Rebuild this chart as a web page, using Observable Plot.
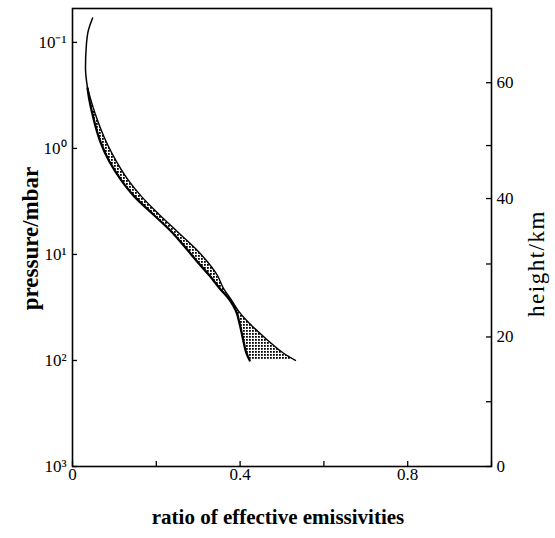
<!DOCTYPE html>
<html><head><meta charset="utf-8">
<script src="https://cdn.jsdelivr.net/npm/d3@7"></script>
<script src="https://cdn.jsdelivr.net/npm/@observablehq/plot@0.6"></script>
<style>body{margin:0;background:#fff}</style>
</head><body><div id="chart"></div>
<script>
// single curve above the band (pressure in mbar, ratio)
const topPressure = [0.0588, 0.0767, 0.107, 0.174, 0.271];
const topRatio    = [0.048, 0.038, 0.033, 0.031, 0.036];
// shaded band: lower and upper bound of the ratio
const bandPressure = [0.271, 0.362, 0.482, 0.875, 1.33, 2.01, 2.85, 4.13, 5.98, 8.84, 12.1, 15.8, 20.8, 27.5, 34, 47, 63, 85, 100];
const bandLow      = [0.036, 0.041, 0.048, 0.067, 0.088, 0.117, 0.148, 0.191, 0.234, 0.272, 0.301, 0.327, 0.351, 0.377, 0.390, 0.400, 0.407, 0.415, 0.423];
const bandHigh     = [0.036, 0.045, 0.055, 0.081, 0.105, 0.134, 0.165, 0.205, 0.248, 0.294, 0.325, 0.346, 0.360, 0.381, 0.396, 0.428, 0.463, 0.503, 0.532];
// axes
const xTicks = [0, 0.2, 0.4, 0.6, 0.8, 1.0];
const xLabels = [0, 0.4, 0.8];
const pTicks = [0.1, 1, 10, 100, 1000];
const pLabels = ["10⁻¹", "10⁰", "10¹", "10²", "10³"];
const heightKm = [0, 10, 20, 30, 40, 50, 60];
const heightPressure = [1000, 245, 60, 12.3, 2.97, 0.94, 0.24];

const W = 555, H = 538;
const mL = 72, mR = 64, mT = 8, mB = 72;
const pw = W - mL - mR, ph = H - mT - mB;

const topRows = topPressure.map((p, i) => ({p, x: topRatio[i]}));
const bandRows = bandPressure.map((p, i) => ({p, lo: bandLow[i], hi: bandHigh[i]}));
const htRows = heightKm.map((h, i) => ({h, p: heightPressure[i]}));
const pRows = pTicks.map((p, i) => ({p, label: pLabels[i]}));

const plot = Plot.plot({
  width: W, height: H,
  marginLeft: mL, marginRight: mR, marginTop: mT, marginBottom: mB,
  style: {fontFamily: "'Liberation Serif', serif", fontSize: "17px", color: "black", background: "white"},
  x: {domain: [0, 1.0], axis: null},
  y: {type: "log", domain: [0.0479, 1000], reverse: true, axis: null},
  marks: [
    Plot.areaX(bandRows, {y: "p", x1: "lo", x2: "hi", fill: "url(#hatch)", curve: "monotone-y"}),
    Plot.lineX(topRows, {x: "x", y: "p", stroke: "black", strokeWidth: 1.5, curve: "monotone-y"}),
    Plot.lineX(bandRows, {x: "lo", y: "p", stroke: "black", strokeWidth: 2.3, curve: "monotone-y"}),
    Plot.lineX(bandRows, {x: "hi", y: "p", stroke: "black", strokeWidth: 1.4, curve: "monotone-y"}),
    Plot.frame({stroke: "black", strokeWidth: 1.6}),
    // inward ticks
    Plot.tickX(xTicks, {x: d => d, insetTop: ph - 5, stroke: "black", strokeWidth: 1.3}),
    Plot.tickY(pTicks, {y: d => d, insetRight: pw - 5, stroke: "black", strokeWidth: 1.3}),
    Plot.tickY(htRows, {y: "p", insetLeft: pw - 5, stroke: "black", strokeWidth: 1.3}),
    // tick labels
    Plot.text(xLabels, {x: d => d, text: d => d === 0 ? "0" : String(d), frameAnchor: "bottom", dy: 13, fontSize: 17}),
    Plot.text(pRows, {y: "p", text: "label", frameAnchor: "left", dx: -6, textAnchor: "end", fontSize: 17}),
    Plot.text(htRows.filter(d => d.h % 20 === 0), {y: "p", text: d => String(d.h), frameAnchor: "right", dx: 5, textAnchor: "start", fontSize: 17}),
    // axis titles
    Plot.text(["pressure/mbar"], {frameAnchor: "left", dx: -42, dy: 1, rotate: -90, textAnchor: "middle", fontWeight: "bold", fontSize: 23}),
    Plot.text(["height/km"], {frameAnchor: "right", dx: 45, dy: 26, rotate: -90, textAnchor: "middle", fontSize: 23}),
    Plot.text(["ratio of effective emissivities"], {frameAnchor: "bottom", dx: -4, dy: 57, textAnchor: "middle", fontWeight: "bold", fontSize: 21})
  ]
});

const svg = d3.select(plot);
const defs = svg.insert("defs", ":first-child");
const pat = defs.append("pattern").attr("id", "hatch").attr("patternUnits", "userSpaceOnUse").attr("width", 3).attr("height", 3);
pat.append("rect").attr("width", 3).attr("height", 3).attr("fill", "white");
pat.append("rect").attr("width", 1.8).attr("height", 1.8).attr("fill", "black");
svg.selectAll("text").filter(function() { return this.textContent === "height/km"; }).attr("letter-spacing", "1.5px");
document.getElementById("chart").appendChild(plot);
</script>
</body></html>
